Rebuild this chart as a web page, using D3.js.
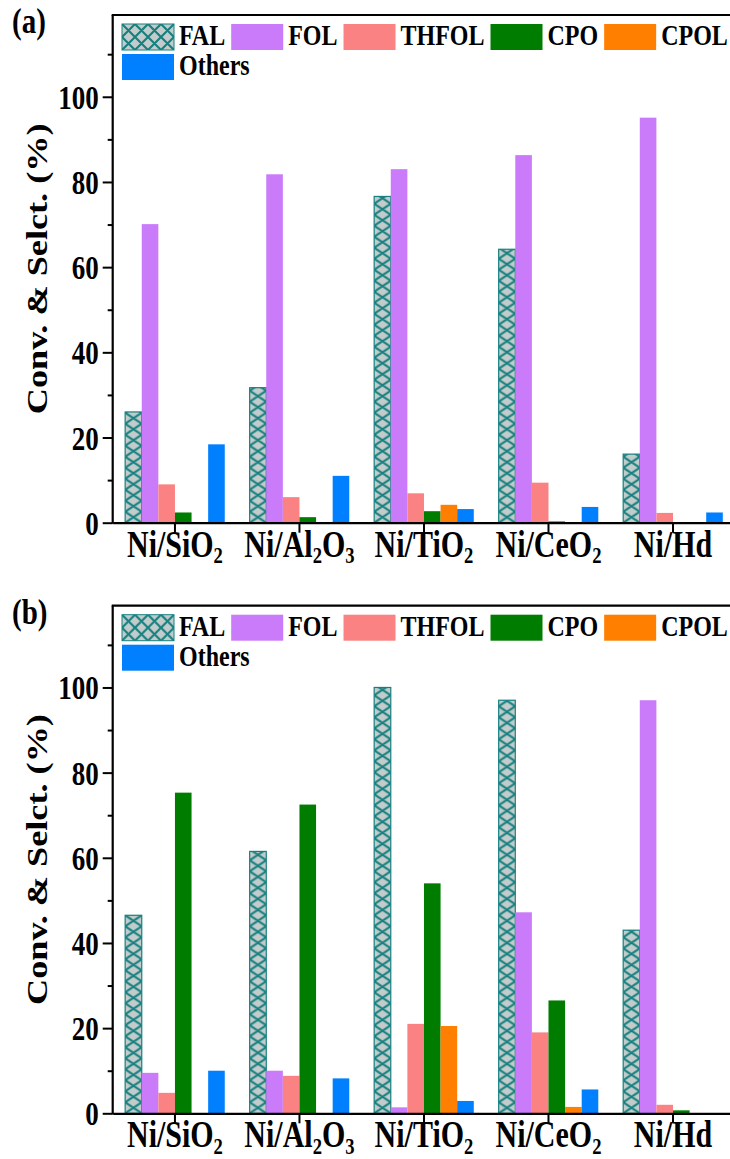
<!DOCTYPE html>
<html>
<head>
<meta charset="utf-8">
<script src="https://cdn.jsdelivr.net/npm/d3@7"></script>
<style>
  body { margin: 0; background: #fff; }
  svg { display: block; }
</style>
</head>
<body>
<div id="chart"></div>
<script>
// categories, series and tick values
const categories = ["Ni/SiO2", "Ni/Al2O3", "Ni/TiO2", "Ni/CeO2", "Ni/Hd"];
const series = ["FAL", "FOL", "THFOL", "CPO", "CPOL", "Others"];
const colors = ["#c3cbcb", "#c97bf9", "#fb8282", "#007d00", "#ff8000", "#0080ff"];
const majorTicks = [0, 20, 40, 60, 80, 100];
const minorTicks = [10, 30, 50, 70, 90, 110];

// panel (a) values, one array per series (order of categories)
const falA    = [26.0, 31.7, 76.6, 64.2, 16.1];
const folA    = [70.1, 81.8, 83.0, 86.3, 95.1];
const thfolA  = [9.0, 6.0, 6.9, 9.4, 2.3];
const cpoA    = [2.4, 1.3, 2.7, 0.3, 0];
const cpolA   = [0, 0, 4.2, 0, 0];
const othersA = [18.4, 11.0, 3.2, 3.7, 2.4];

// panel (b) values
const falB    = [46.5, 61.5, 100.0, 97.0, 43.0];
const folB    = [9.5, 10.0, 1.4, 47.2, 97.0];
const thfolB  = [4.8, 8.8, 21.0, 19.0, 2.0];
const cpoB    = [75.3, 72.5, 54.0, 26.5, 0.7];
const cpolB   = [0, 0, 20.5, 1.5, 0];
const othersB = [10.0, 8.2, 2.9, 5.6, 0];

const W = 730, H = 1159;
const SERIF = "'Liberation Serif', 'Times New Roman', serif";
const STRETCH = 1.25; // the source figure is taller than wide

const svg = d3.select("#chart").append("svg")
  .attr("width", W).attr("height", H);
const defs = svg.append("defs");

let patId = 0;
function hatch(x0, y0, w, h) {
  const id = "hatch" + (patId++);
  const p = defs.append("pattern")
    .attr("id", id)
    .attr("patternUnits", "userSpaceOnUse")
    .attr("x", x0).attr("y", y0)
    .attr("width", w).attr("height", h);
  p.append("rect").attr("width", w).attr("height", h).attr("fill", colors[0]);
  let d = "";
  [-w, 0, w].forEach(o => {
    d += `M${o},0L${o + w},${h}M${o + w},0L${o},${h}`;
  });
  p.append("path").attr("d", d)
    .attr("stroke", "#15807f").attr("stroke-width", 2.1).attr("fill", "none");
  return `url(#${id})`;
}

// bold serif text, stretched vertically; digits become subscripts
function label(g, x, y, size, str, anchor) {
  const t = g.append("text")
    .attr("transform", `translate(${x},${y}) scale(1,${STRETCH})`)
    .attr("font-family", SERIF).attr("font-weight", "bold")
    .attr("font-size", size)
    .attr("text-anchor", anchor || "start");
  const drop = size * 0.17;
  let down = false;
  str.split(/(\d+)/).filter(s => s.length).forEach(s => {
    if (/^\d+$/.test(s)) {
      t.append("tspan").attr("font-size", size * 0.62).attr("dy", drop).text(s);
      down = true;
    } else {
      t.append("tspan").attr("dy", down ? -drop : 0).text(s);
      down = false;
    }
  });
  return t;
}

const panels = [
  { tag: "(a)", top: 15, bottom: 522.7, data: [falA, folA, thfolA, cpoA, cpolA, othersA] },
  { tag: "(b)", top: 605.7, bottom: 1113.3, data: [falB, folB, thfolB, cpoB, cpolB, othersB] }
];

const x = d3.scaleBand().domain(categories).range([112.7, 735.25]).padding(0);
const bw = x.bandwidth();
const xs = d3.scaleBand().domain(series).range([0.1 * bw, 0.9 * bw]);

panels.forEach(pan => {
  const g = svg.append("g");
  const y = d3.scaleLinear().domain([0, 119.2]).range([pan.bottom, pan.top]);

  // bars
  series.forEach((s, si) => {
    pan.data[si].forEach((v, ci) => {
      if (v <= 0) return;
      const bx = x(categories[ci]) + xs(s);
      const r = g.append("rect")
        .attr("x", bx).attr("y", y(v))
        .attr("width", xs.bandwidth())
        .attr("height", y(0) - y(v));
      if (si === 0) {
        r.attr("fill", hatch(bx, y(0), xs.bandwidth(), 11))
          .attr("stroke", "#15807f").attr("stroke-width", 1.2);
      } else {
        r.attr("fill", colors[si]);
      }
    });
  });

  // y axis
  const ya = g.append("g")
    .attr("transform", `translate(${x.range()[0]},0)`)
    .call(d3.axisLeft(y).tickValues(majorTicks).tickSize(10).tickSizeOuter(0).tickPadding(4));
  ya.select(".domain").remove();
  ya.selectAll(".tick line").attr("stroke-width", 2);
  ya.selectAll(".tick text")
    .attr("font-family", SERIF).attr("font-weight", "bold").attr("font-size", 27)
    .attr("fill", "#000").attr("dy", "0.34em")
    .attr("transform", `scale(1,${STRETCH})`);
  g.append("g")
    .attr("transform", `translate(${x.range()[0]},0)`)
    .call(d3.axisLeft(y).tickValues(minorTicks).tickSize(5).tickFormat(""))
    .call(a => a.select(".domain").remove())
    .selectAll(".tick line").attr("stroke-width", 2);

  // frame: left, top
  g.append("line")
    .attr("x1", x.range()[0]).attr("x2", x.range()[0])
    .attr("y1", y(0) + 1).attr("y2", pan.top)
    .attr("stroke", "#000").attr("stroke-width", 2.2);
  g.append("line")
    .attr("x1", x.range()[0] - 1).attr("x2", W + 2)
    .attr("y1", pan.top).attr("y2", pan.top)
    .attr("stroke", "#000").attr("stroke-width", 2.2);

  // x axis
  const xa = g.append("g")
    .attr("transform", `translate(0,${y(0)})`)
    .call(d3.axisBottom(x).tickSize(10).tickSizeOuter(0).tickFormat(""));
  xa.select(".domain").attr("stroke-width", 2.2);
  xa.selectAll(".tick line").attr("stroke-width", 2);
  categories.forEach(c => {
    label(g, x(c) + bw / 2, y(0) + 34, 30, c, "middle");
  });

  // y title
  g.append("text")
    .attr("transform", `translate(47,${(pan.top + pan.bottom) / 2}) scale(1,${STRETCH}) rotate(-90)`)
    .attr("font-family", SERIF).attr("font-weight", "bold").attr("font-size", 29)
    .attr("text-anchor", "middle")
    .text("Conv. & Selct. (%)");

  // panel tag
  label(g, 12, pan.top + 18, 29, pan.tag);

  // legend
  let lx = 122, ly = pan.top + 9;
  series.forEach((s, si) => {
    if (si === 5) { lx = 122; ly += 30; }
    const sw = g.append("rect")
      .attr("x", lx).attr("y", ly)
      .attr("width", 52).attr("height", 26);
    if (si === 0) {
      sw.attr("fill", hatch(lx, ly, 13, 13)).attr("stroke", "#15807f").attr("stroke-width", 1);
    } else {
      sw.attr("fill", colors[si]);
    }
    const t = label(g, lx + 57, ly + 21, 24, s);
    lx += 57 + t.node().getComputedTextLength() + 6;
  });
});
</script>
</body>
</html>
